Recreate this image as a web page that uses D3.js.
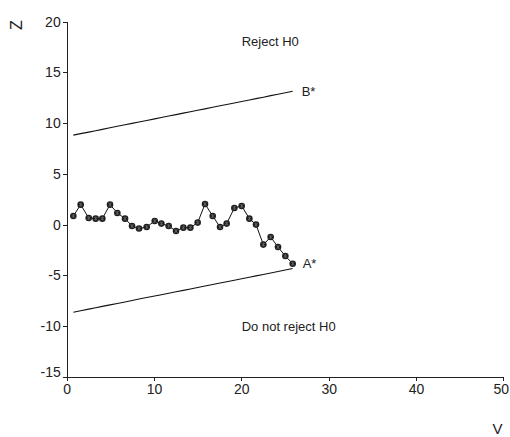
<!DOCTYPE html>
<html>
<head>
<meta charset="utf-8">
<script src="https://cdn.jsdelivr.net/npm/d3@7/dist/d3.min.js"></script>
<style>
  html, body { margin: 0; padding: 0; background: #fff; }
  svg { display: block; font-family: "Liberation Sans", Arial, sans-serif; }
  .axis path, .axis line { stroke: #222; shape-rendering: crispEdges; }
  .axis text { font-size: 14px; fill: #222; font-family: "Liberation Sans", Arial, sans-serif; }
</style>
</head>
<body>
<svg id="chart" width="510" height="437"></svg>
<script>
// Cumulative information V at each interim look
const vValues = [0.76, 1.60, 2.52, 3.32, 4.08, 4.96, 5.80, 6.68, 7.48, 8.28,
  9.16, 10.08, 10.84, 11.68, 12.52, 13.36, 14.16, 15.00, 15.84, 16.72,
  17.56, 18.32, 19.20, 20.04, 20.92, 21.68, 22.52, 23.36, 24.20, 25.04, 25.88];
// Efficient score statistic Z at each look
const zValues = [0.85, 1.97, 0.65, 0.59, 0.59, 1.97, 1.15, 0.59, -0.14, -0.39,
  -0.24, 0.36, 0.10, -0.14, -0.63, -0.30, -0.30, 0.20, 2.03, 0.85,
  -0.24, 0.10, 1.64, 1.84, 0.59, 0.00, -1.97, -1.22, -2.21, -3.10, -3.85];
// Upper stopping boundary (B*)
const upperBound = [8.82, 8.97, 9.12, 9.26, 9.39, 9.54, 9.69, 9.84, 9.98, 10.11,
  10.27, 10.42, 10.55, 10.70, 10.84, 10.99, 11.13, 11.27, 11.41, 11.57,
  11.71, 11.84, 11.99, 12.14, 12.29, 12.42, 12.56, 12.71, 12.85, 12.99, 13.14];
// Lower stopping boundary (A*)
const lowerBound = [-8.63, -8.49, -8.33, -8.19, -8.06, -7.91, -7.77, -7.62, -7.48, -7.34,
  -7.19, -7.04, -6.91, -6.76, -6.62, -6.48, -6.34, -6.20, -6.05, -5.90,
  -5.76, -5.63, -5.48, -5.33, -5.18, -5.05, -4.91, -4.77, -4.62, -4.48, -4.33];

const xTicks = [0, 10, 20, 30, 40, 50];
const yTicks = [20, 15, 10, 5, 0, -5, -10, -15];

const svg = d3.select("#chart");
const x = d3.scaleLinear().domain([0, 50]).range([66.7, 503.3]);
const y = d3.scaleLinear().domain([-15, 20]).range([376.8, 21.7]);
const plainFmt = d => String(d);

// Axes
const xAxis = svg.append("g").attr("class", "axis")
  .attr("transform", `translate(0,${y(-15)})`)
  .call(d3.axisBottom(x).tickValues(xTicks).tickFormat(plainFmt)
    .tickSizeInner(4).tickSizeOuter(0).tickPadding(3));
// keep the last tick label inside the drawing area
xAxis.selectAll(".tick").filter(d => d === 50).select("text").attr("dx", "-2.5");

const yAxis = svg.append("g").attr("class", "axis")
  .attr("transform", `translate(${x(0)},0)`)
  .call(d3.axisLeft(y).tickValues(yTicks).tickFormat(plainFmt)
    .tickSizeInner(4).tickSizeOuter(0).tickPadding(2));
yAxis.selectAll(".tick").filter(d => d === -15).select("text").attr("dy", "-0.05em");

// Axis titles
svg.append("text").attr("transform", "translate(16,25) rotate(-90)")
  .attr("text-anchor", "middle").attr("dy", "0.35em")
  .attr("font-size", 16).attr("fill", "#222").text("Z");
svg.append("text").attr("x", 497.5).attr("y", 429)
  .attr("text-anchor", "middle").attr("dy", "0.35em")
  .attr("font-size", 15).attr("fill", "#222").text("V");

// Boundary lines
const bLine = vals => d3.line().x((d, i) => x(vValues[i])).y(d => y(d))(vals);
svg.append("path").attr("d", bLine(upperBound))
  .attr("fill", "none").attr("stroke", "#111").attr("stroke-width", 1.1);
svg.append("path").attr("d", bLine(lowerBound))
  .attr("fill", "none").attr("stroke", "#111").attr("stroke-width", 1.1);

// Sample path
svg.append("path").attr("d", bLine(zValues))
  .attr("fill", "none").attr("stroke", "#111").attr("stroke-width", 1);

const pts = svg.append("g").selectAll("g").data(zValues).join("g")
  .attr("transform", (d, i) => `translate(${x(vValues[i])},${y(d)})`);
pts.append("circle").attr("r", 3.3).attr("fill", "#1c1c1c");
pts.append("path").attr("d", "M-1.7,-1.7L1.7,1.7M-1.7,1.7L1.7,-1.7M0,-2.1V2.1")
  .attr("stroke", "#6a6a6a").attr("stroke-width", 0.8);

// Boundary labels
const last = vValues.length - 1;
svg.append("text").attr("x", x(vValues[last]) + 9).attr("y", y(upperBound[last]))
  .attr("dy", "0.35em").attr("font-size", 13).attr("fill", "#222").text("B*");
svg.append("text").attr("x", x(vValues[last]) + 10).attr("y", y(zValues[last]))
  .attr("dy", "0.35em").attr("font-size", 13).attr("fill", "#222").text("A*");

// Region labels
svg.append("text").attr("x", 241.7).attr("y", 41).attr("dy", "0.35em")
  .attr("font-size", 13).attr("fill", "#222").text("Reject H0");
svg.append("text").attr("x", 241.7).attr("y", 326.7).attr("dy", "0.35em")
  .attr("font-size", 13).attr("fill", "#222").text("Do not reject H0");
</script>
</body>
</html>
